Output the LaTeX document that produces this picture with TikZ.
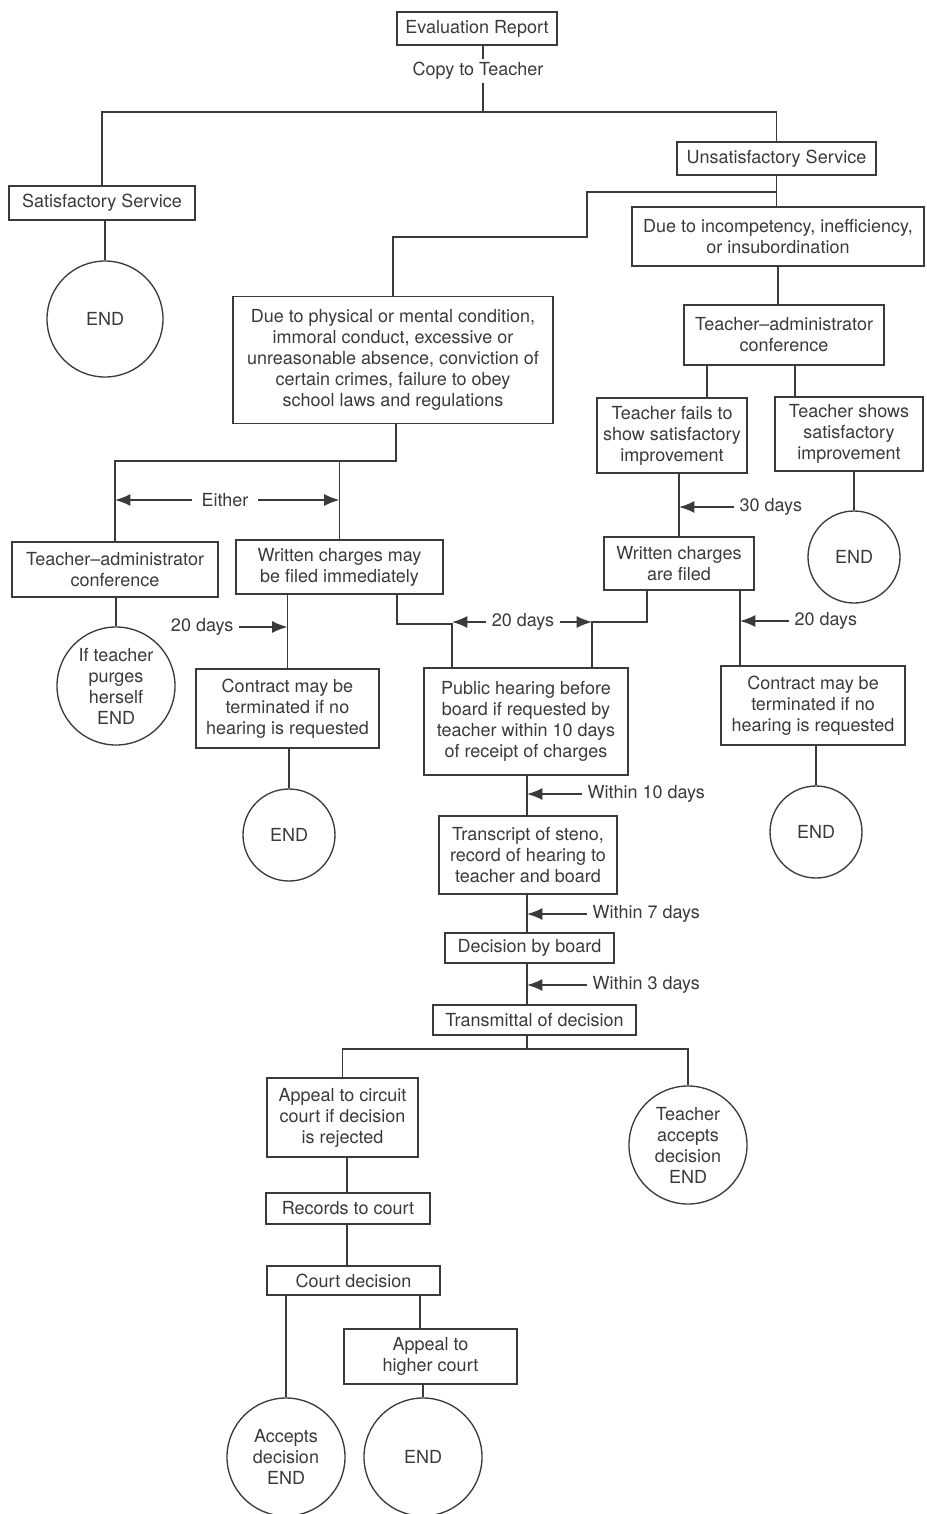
\documentclass[tikz,border=0pt]{standalone}
\usepackage{fontspec}
\setmainfont{TeX Gyre Heros}
\usetikzlibrary{arrows.meta,calc}
\definecolor{ink}{HTML}{3A3A3A}
\newcommand{\chartfont}{\fontsize{13.5}{15.75}\selectfont}
\tikzset{box/.style={draw=ink,line width=1pt,align=center,inner sep=0pt,text=ink,font=\chartfont},
 endc/.style={box,circle},
 lbl/.style={align=center,inner sep=2pt,inner xsep=4pt,text=ink,font=\chartfont},
 link/.style={draw=ink,line width=1pt},
 tick/.style={draw=ink,line width=1.2pt,-{Latex[length=11.5pt,width=9pt]}}}
\begin{document}
\begin{tikzpicture}[x=0.75pt,y=-0.75pt]
\useasboundingbox (0,0) rectangle (926,1514);
\node[box,minimum width=120pt,minimum height=24.75pt] (eval) at (477,28.5){Evaluation Report};
\node[lbl] (copy) at (478,71){Copy to Teacher};
\node[box,minimum width=139.5pt,minimum height=25.5pt] (sat) at (102,203){Satisfactory Service};
\node[endc,minimum size=87pt] (end1) at (105,319){END};
\node[box,minimum width=149.25pt,minimum height=24.75pt] (unsat) at (776.5,158.5){Unsatisfactory Service};
\node[box,minimum width=219pt,minimum height=44.25pt] (incomp) at (778,236.5){Due to incompetency, inefficiency,\\or insubordination};
\node[box,minimum width=240pt,minimum height=95.25pt] (phys) at (393,360){Due to physical or mental condition,\\immoral conduct, excessive or\\unreasonable absence, conviction of\\certain crimes, failure to obey\\school laws and regulations};
\node[box,minimum width=150pt,minimum height=45pt] (tacr) at (784,335){Teacher--administrator\\conference};
\node[box,minimum width=112.5pt,minimum height=56.25pt] (fails) at (672,435.5){Teacher fails to\\show satisfactory\\improvement};
\node[box,minimum width=111pt,minimum height=55.5pt] (shows) at (849,434){Teacher shows\\satisfactory\\improvement};
\node[endc,minimum size=69pt] (end2) at (854,557){END};
\node[box,minimum width=112.5pt,minimum height=39.75pt] (filed) at (679,563.5){Written charges\\are filed};
\node[box,minimum width=154.5pt,minimum height=41.25pt] (tacl) at (115,569.5){Teacher--administrator\\conference};
\node[box,minimum width=155.25pt,minimum height=40.5pt] (charges) at (339.5,567){Written charges may\\be filed immediately};
\node[endc,minimum size=88.5pt] (purge) at (116,686){If teacher\\purges\\herself\\END};
\node[box,minimum width=137.25pt,minimum height=59.25pt] (contl) at (287.5,708.5){Contract may be\\terminated if no\\hearing is requested};
\node[endc,minimum size=69pt] (endl) at (289,835){END};
\node[box,minimum width=153pt,minimum height=80.25pt] (hear) at (526,721.5){Public hearing before\\board if requested by\\teacher within 10 days\\of receipt of charges};
\node[box,minimum width=138pt,minimum height=59.25pt] (contr) at (813,705.5){Contract may be\\terminated if no\\hearing is requested};
\node[endc,minimum size=69pt] (endr) at (816,832){END};
\node[box,minimum width=133.5pt,minimum height=58.5pt] (trans) at (528,855){Transcript of steno,\\record of hearing to\\teacher and board};
\node[box,minimum width=126.75pt,minimum height=22.5pt] (dec) at (529.5,948){Decision by board};
\node[box,minimum width=152.25pt,minimum height=22.5pt] (transm) at (534.5,1020){Transmittal of decision};
\node[box,minimum width=113.25pt,minimum height=59.25pt] (appc) at (342.5,1117.5){Appeal to circuit\\court if decision\\is rejected};
\node[endc,minimum size=88.5pt] (accept) at (688,1145){Teacher\\accepts\\decision\\END};
\node[box,minimum width=123pt,minimum height=23.25pt] (rec) at (348,1208.5){Records to court};
\node[box,minimum width=129.75pt,minimum height=21.75pt] (court) at (353.5,1280.5){Court decision};
\node[box,minimum width=129.75pt,minimum height=41.25pt] (apph) at (430.5,1356.5){Appeal to\\higher court};
\node[endc,minimum size=88.5pt] (acc2) at (286,1457){Accepts\\decision\\END};
\node[endc,minimum size=88.5pt] (endh) at (423,1457){END};
\node[lbl,inner xsep=7pt] (either) at (225,500){Either};
\node[lbl,anchor=east] (d20a) at (239,627){20 days};
\node[lbl] (d20b) at (523,622){20 days};
\node[lbl,anchor=west] (d30) at (734,507){30 days};
\node[lbl,anchor=west] (d20c) at (789,621){20 days};
\node[lbl,anchor=west] (w10) at (582,794){Within 10 days};
\node[lbl,anchor=west] (w7) at (587,914){Within 7 days};
\node[lbl,anchor=west] (w3) at (587,985){Within 3 days};
\coordinate (j1) at (483,112);\coordinate (j2) at (776,192);\coordinate (j3) at (587,237);\coordinate (j4) at (592,622);
\coordinate (j5) at (396,461);\coordinate (j6) at (452,624);\coordinate (j7) at (527,1049);\coordinate (j8) at (740,622);
\draw[link] (eval.south -| j1) -- (copy.north -| j1) (copy.south -| j1) -- (j1);
\draw[link] (sat.north) |- (j1) -| (unsat.north);
\draw[link] (sat.south -| end1) -- (end1.north);
\draw[link] (unsat.south) -- (unsat.south |- incomp.north);
\draw[link] (j2) -| (j3) -| (phys.north);
\draw[link] (incomp.south) -- (incomp.south |- tacr.north);
\draw[link] (tacr.south -| 707,0) -- (fails.north -| 707,0) (tacr.south -| 795,0) -- (shows.north -| 795,0);
\draw[link] (shows.south -| end2) -- (end2.north);
\draw[link] (fails.south -| filed) -- (filed.north);
\draw[link] (filed.south -| 647,0) |- (j4) -- (j4 |- hear.north);
\draw[link] (filed.south -| j8) -- (contr.north -| j8);
\draw[link] (contr.south -| endr) -- (endr.north);
\draw[link] (phys.south -| j5) -- (j5) -| (tacl.north) (j5) -| (charges.north);
\draw[link] (tacl.south -| purge) -- (purge.north);
\draw[link] (charges.south -| contl) -- (contl.north);
\draw[link] (charges.south -| 397,0) |- (j6) -- (j6 |- hear.north);
\draw[link] (contl.south -| endl) -- (endl.north);
\draw[link] (hear.south -| j7) -- (trans.north -| j7) (trans.south -| j7) -- (dec.north -| j7) (dec.south -| j7) -- (transm.north -| j7) (transm.south -| j7) -- (j7);
\draw[link] (appc.north) |- (j7) -| (accept.north);
\draw[link] (appc.south -| 347,0) -- (rec.north -| 347,0) (rec.south -| 347,0) -- (court.north -| 347,0);
\draw[link] (court.south -| acc2) -- (acc2.north);
\draw[link] (court.south -| 420,0) -- (apph.north -| 420,0);
\draw[link] (apph.south -| endh) -- (endh.north);
\draw[tick] (either.west) -- (either.west -| tacl.north);\draw[tick] (either.east) -- (either.east -| charges.north);
\draw[tick] (d20a.east) -- (d20a.east -| contl.north);
\draw[tick] (d20b.west) -- (d20b.west -| j6);\draw[tick] (d20b.east) -- (d20b.east -| j4);
\draw[tick] (d30.west) -- (d30.west -| filed.north);
\draw[tick] (d20c.west) -- (d20c.west -| j8);
\draw[tick] (w10.west) -- (w10.west -| j7);\draw[tick] (w7.west) -- (w7.west -| j7);\draw[tick] (w3.west) -- (w3.west -| j7);
\end{tikzpicture}
\end{document}
